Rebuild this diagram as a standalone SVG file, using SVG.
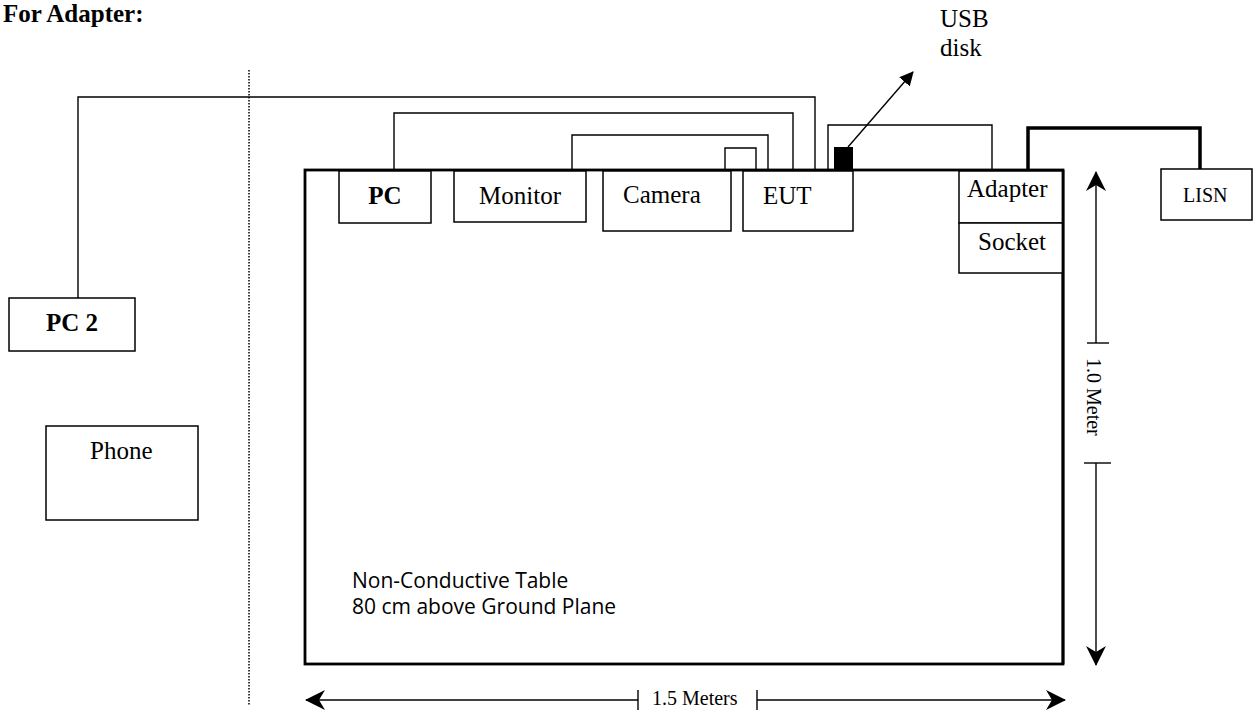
<svg xmlns="http://www.w3.org/2000/svg" width="1258" height="711" viewBox="0 0 1258 711">
<style>
.box{fill:#fff;stroke:#000;stroke-width:1.5}
.ln{fill:none;stroke:#000;stroke-width:1.4}
.heavy{fill:none;stroke:#000;stroke-width:3.5}
.t{font-family:"Liberation Serif","Times New Roman",serif;font-size:25px;fill:#000}
.b{font-weight:bold}
.s{font-size:20px}
.cal{font-family:"Open Sans","Liberation Sans",sans-serif;font-size:21px;fill:#000}
</style>
<defs>
<marker id="dim" viewBox="0 0 20 20" markerWidth="20" markerHeight="20" refX="19" refY="10" orient="auto" markerUnits="userSpaceOnUse">
<path d="M0,0 L20,10 L0,20 L6,10 Z" fill="#000"/>
</marker>
<marker id="tri" viewBox="0 0 14 14" markerWidth="14" markerHeight="14" refX="13" refY="7" orient="auto" markerUnits="userSpaceOnUse">
<path d="M0,0 L14,7 L0,14 Z" fill="#000"/>
</marker>
</defs>
<rect width="1258" height="711" fill="#fff"/>
<text class="t b" x="3" y="22" style="font-size:25px">For Adapter:</text>
<line x1="249" y1="70" x2="249" y2="706" stroke="#000" stroke-width="1.5" stroke-dasharray="1.5 1.5"/>
<g id="table">
<rect x="305" y="170" width="758" height="494" fill="#fff" stroke="#000" stroke-width="2.8"/>
<text class="cal" x="352" y="588">Non-Conductive Table</text>
<text class="cal" x="352" y="614">80 cm above Ground Plane</text>
</g>
<g id="connectors">
<polyline class="ln" points="78,298 78,97 815,97 815,170"/>
<polyline class="ln" points="394,171 394,113 793,113 793,170"/>
<polyline class="ln" points="572,171 572,135 768,135 768,170"/>
<polyline class="ln" points="725,170 725,148 756,148 756,170"/>
<polyline class="ln" points="828,170 828,125 992,125 992,170"/>
<polyline class="heavy" points="1028,170 1028,128 1200,128 1200,169"/>
<line class="ln" x1="848" y1="147" x2="913" y2="72" marker-end="url(#tri)"/>
</g>
<g id="pc"><rect class="box" x="339" y="171" width="92" height="52"/><text class="t b" x="385" y="204" text-anchor="middle">PC</text></g>
<g id="monitor"><rect class="box" x="454" y="171" width="132" height="51"/><text class="t" x="520" y="204" text-anchor="middle">Monitor</text></g>
<g id="camera"><rect class="box" x="603" y="171" width="128" height="60"/><text class="t" x="623" y="203">Camera</text></g>
<g id="eut"><rect class="box" x="743" y="171" width="110" height="60"/><text class="t" x="763" y="204">EUT</text></g>
<g id="usb"><rect x="834" y="147" width="19" height="23" fill="#000"/><text class="t" x="940" y="27">USB</text><text class="t" x="940" y="56">disk</text></g>
<g id="adapter"><rect class="box" x="959" y="171" width="104" height="52"/><text class="t" x="967" y="197">Adapter</text></g>
<g id="socket"><rect class="box" x="959" y="223" width="104" height="50"/><text class="t" x="978" y="250">Socket</text></g>
<line x1="1063" y1="170" x2="1063" y2="664" stroke="#000" stroke-width="2.8"/>
<g id="lisn"><rect class="box" x="1161" y="169" width="91" height="51"/><text class="t s" x="1183" y="202">LISN</text></g>
<g id="pc2"><rect class="box" x="9" y="298" width="126" height="53" stroke-width="2"/><text class="t b" x="46" y="331">PC 2</text></g>
<g id="phone"><rect class="box" x="46" y="426" width="152" height="94" stroke-width="2"/><text class="t" x="90" y="459">Phone</text></g>
<g id="dimensions">
<line class="ln" x1="1096" y1="343" x2="1096" y2="172" marker-end="url(#dim)"/>
<line class="ln" x1="1087" y1="343" x2="1109" y2="343"/>
<line class="ln" x1="1084" y1="463" x2="1111" y2="463"/>
<line class="ln" x1="1096" y1="463" x2="1096" y2="665" marker-end="url(#dim)"/>
<text class="t s" transform="translate(1087,358) rotate(90)">1.0 Meter</text>
<line class="ln" x1="638" y1="700" x2="306" y2="700" marker-end="url(#dim)"/>
<line class="ln" x1="638" y1="690" x2="638" y2="710"/>
<line class="ln" x1="757" y1="690" x2="757" y2="710"/>
<line class="ln" x1="757" y1="700" x2="1065" y2="700" marker-end="url(#dim)"/>
<text class="t s" x="652" y="705">1.5 Meters</text>
</g>
</svg>
